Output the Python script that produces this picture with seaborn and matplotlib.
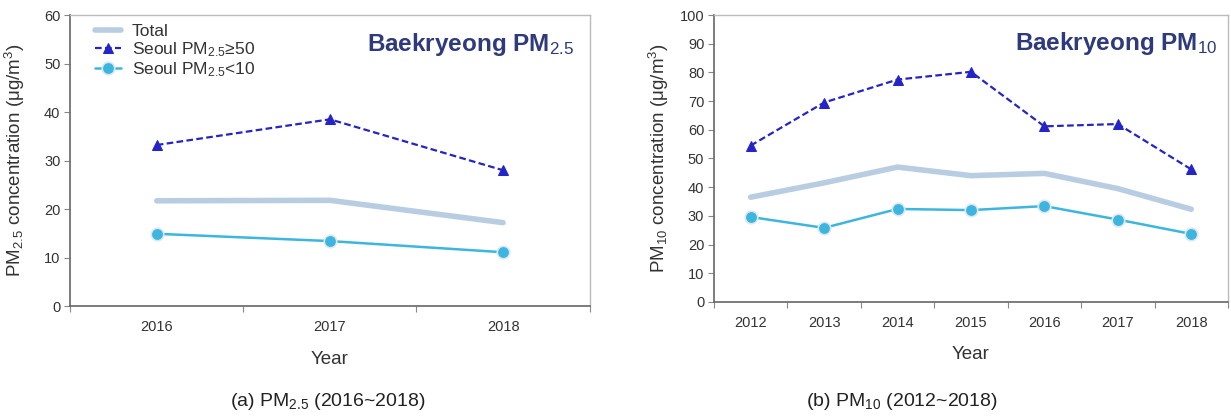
import numpy as np
import pandas as pd
import matplotlib
matplotlib.use("Agg")
import matplotlib.pyplot as plt
import seaborn as sns
from matplotlib.ticker import FixedLocator, NullFormatter

sns.set_theme(style="white")
plt.rcParams['font.family'] = ['Liberation Sans', 'DejaVu Sans']
plt.rcParams['mathtext.fontset'] = 'custom'
plt.rcParams['mathtext.rm'] = 'Liberation Sans'
plt.rcParams['mathtext.it'] = 'Liberation Sans:italic'
plt.rcParams['mathtext.bf'] = 'Liberation Sans:bold'

# ---- data ----
years_a = ["2016", "2017", "2018"]
total_a = [21.7, 21.8, 17.2]
high_a = [33.2, 38.5, 28.0]
low_a = [14.9, 13.4, 11.1]

years_b = ["2012", "2013", "2014", "2015", "2016", "2017", "2018"]
total_b = [36.5, 41.5, 47.0, 44.0, 44.8, 39.5, 32.3]
high_b = [54.5, 69.5, 77.5, 80.2, 61.2, 62.0, 46.2]
low_b = [29.6, 25.8, 32.4, 32.0, 33.4, 28.7, 23.7]

c_total = "#b9cde2"
c_high = "#2424c8"
c_low = "#3cb6de"
c_title = "#2e3a7c"
c_text = "#333333"
c_spine = "#888888"

fig = plt.figure(figsize=(12.31, 4.17), dpi=100)
ax1 = fig.add_axes([0.057, 0.266, 0.422, 0.698])
ax2 = fig.add_axes([0.580, 0.276, 0.4175, 0.688])


def draw(ax, years, total, high, low, ymax, ystep, legend):
    x = np.arange(len(years))
    df = pd.DataFrame({"x": x, "total": total, "high": high, "low": low})
    sns.lineplot(data=df, x="x", y="total", ax=ax, color=c_total, lw=4,
                 label="Total", solid_capstyle="round", zorder=2)
    sns.lineplot(data=df, x="x", y="high", ax=ax, color=c_high, lw=1.6,
                 linestyle=(0, (3, 1.5)), marker="^", markersize=7,
                 markeredgecolor=c_high, label="Seoul PM$_{2.5}$≥50", zorder=3)
    sns.lineplot(data=df, x="x", y="low", ax=ax, color=c_low, lw=1.8,
                 marker="o", markersize=9, markeredgecolor="#dde8ee",
                 markeredgewidth=1.2, label="Seoul PM$_{2.5}$<10", zorder=3)
    n = len(years)
    ax.set_xlim(-0.5, n - 0.5)
    ax.set_ylim(0, ymax)
    ax.set_yticks(np.arange(0, ymax + 1, ystep))
    ax.xaxis.set_major_locator(FixedLocator(np.arange(-0.5, n, 1.0)))
    ax.xaxis.set_major_formatter(NullFormatter())
    ax.set_xticks(x, minor=True)
    ax.set_xticklabels(years, minor=True)
    ax.tick_params(axis="x", which="major", direction="out", length=4,
                   width=0.8, color=c_spine, bottom=True)
    ax.tick_params(axis="x", which="minor", length=0, pad=10,
                   labelsize=10.5, labelcolor=c_text)
    ax.tick_params(axis="y", direction="out", length=4, width=0.8,
                   color=c_spine, left=True, labelsize=10.5, labelcolor=c_text, pad=3)
    for s in ["left", "bottom"]:
        ax.spines[s].set_color("#666666")
        ax.spines[s].set_linewidth(1.2)
    for s in ["top", "right"]:
        ax.spines[s].set_color("#bbbbbb")
        ax.spines[s].set_linewidth(1.0)
    ax.set_xlabel("Year", fontsize=13.5, color=c_text, labelpad=12)
    if legend:
        ax.legend(loc="upper left", frameon=False, fontsize=12.5,
                  bbox_to_anchor=(0.025, 1.01), handlelength=1.5,
                  handletextpad=0.6, labelspacing=0.05, borderaxespad=0.3)
        for t in ax.get_legend().get_texts():
            t.set_color(c_text)
    else:
        ax.get_legend().remove()


draw(ax1, years_a, total_a, high_a, low_a, 60, 10, True)
draw(ax2, years_b, total_b, high_b, low_b, 100, 10, False)

ax1.set_ylabel("PM$_{2.5}$ concentration (μg/m$^3$)", fontsize=13.5,
               color=c_text, labelpad=12)
ax2.set_ylabel("PM$_{10}$ concentration (μg/m$^3$)", fontsize=13.5,
               color=c_text, labelpad=6)

ax1.text(0.97, 0.90, "Baekryeong PM$_{2.5}$", transform=ax1.transAxes,
         ha="right", va="center", fontsize=17.5, fontweight="semibold", color=c_title)
ax2.text(0.98, 0.90, "Baekryeong PM$_{10}$", transform=ax2.transAxes,
         ha="right", va="center", fontsize=17.5, fontweight="semibold", color=c_title)

fig.text(0.266, 0.038, "(a) PM$_{2.5}$ (2016~2018)", ha="center",
         va="center", fontsize=14, color="#222222")
fig.text(0.733, 0.038, "(b) PM$_{10}$ (2012~2018)", ha="center",
         va="center", fontsize=14, color="#222222")

fig.savefig("out.png", dpi=100, facecolor="white")
